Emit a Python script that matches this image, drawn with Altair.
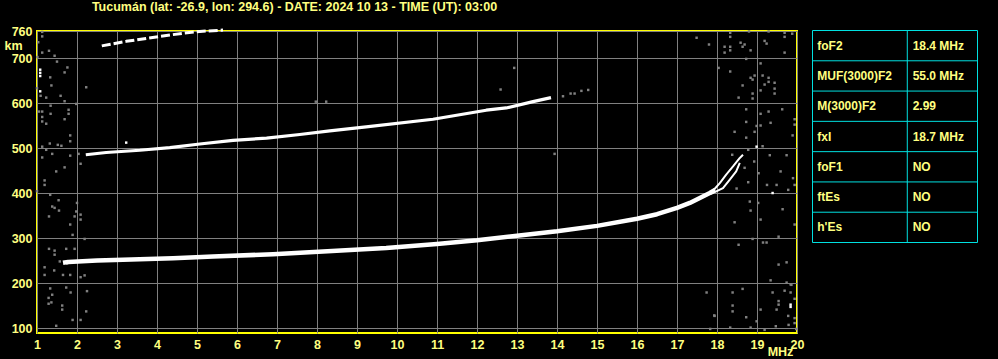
import altair as alt
import pandas as pd

# ---------------- data ----------------
# F2 trace (first hop), below the o/x split
f2_freq = [1.65, 1.78, 2.5, 3.15, 4.4, 5.4, 6.9, 8.15, 9.73, 11.0, 12.0, 13.0, 14.0, 15.0, 16.0, 16.5, 17.0, 17.32, 17.57, 17.82, 17.95]
f2_km = [245, 247, 250, 252, 255, 259, 264, 270, 278, 287, 295, 305, 315, 327, 343, 353, 367, 378, 389, 400, 407]
# o branch near the cusp
o_freq = [17.9, 18.07, 18.23, 18.4, 18.57, 18.65]
o_km = [405, 422, 441, 459, 478, 485]
# x branch near the cusp
x_freq = [17.85, 18.15, 18.32, 18.48, 18.57]
x_km = [398, 411, 430, 448, 467]
# second hop
h2_freq = [2.22, 2.73, 3.57, 4.32, 5.07, 5.9, 6.74, 7.57, 8.32, 9.23, 10.9, 12.23, 12.73, 13.4, 13.85]
h2_km = [485, 490, 495, 501, 509, 517, 522, 530, 538, 547, 564, 584, 589, 603, 612]
# third hop
h3_freq = [2.62, 3.23, 4.07, 4.65, 5.07, 5.65]
h3_km = [727, 737, 748, 755, 759, 762]

# grey speckle / noise
noise_freq = [
    1.13, 1.13, 1.03, 1.13, 1.30, 1.44, 1.50, 1.01, 1.76, 1.69, 1.33, 1.36, 2.23, 1.00, 1.09, 1.23, 1.59, 1.69,
    1.98, 1.34, 1.05, 1.13, 1.79, 1.79, 1.34, 1.13, 1.69, 1.13, 1.23, 1.83, 1.83, 1.32, 1.52, 1.61, 1.13, 1.23,
    1.38, 2.04, 1.13, 1.83, 2.09, 1.69, 1.48, 1.19, 1.19, 1.00, 1.33, 2.00, 1.54, 1.38, 1.44, 1.55, 1.98, 2.09,
    1.30, 1.94, 2.09, 1.83, 1.89, 2.19, 1.30, 1.44, 1.44, 1.73, 1.94, 1.19, 1.43, 1.65, 1.19, 1.83, 2.19, 2.09,
    1.33, 1.73, 1.84, 2.25, 1.38, 1.29, 1.36, 1.63, 1.63, 2.23, 1.89, 2.09, 1.48, 1.29, 1.57, 1.75,
    7.97, 8.23, 12.93, 12.59, 13.94, 14.15, 14.34, 14.44, 14.61, 14.78,
    17.49, 17.80, 18.33, 18.33, 18.80, 19.29, 19.69, 19.69, 19.88, 19.19, 19.24, 18.19, 18.33, 18.59, 18.69,
    18.64, 18.19, 18.33, 18.84, 19.69, 18.73, 19.09, 18.04, 18.33, 18.94, 18.84, 18.89, 19.14, 19.29, 19.29,
    19.44, 19.19, 18.64, 19.44, 19.09, 18.89, 19.44, 18.54, 18.89, 18.73, 19.09, 19.29, 19.63, 19.94, 18.73,
    19.34, 19.94, 19.09, 18.44, 18.94, 18.99, 18.73, 19.89,
    19.14, 18.38, 18.69, 18.93, 18.78, 19.32, 19.74, 19.59, 19.90, 19.94, 19.78, 19.04, 18.78, 19.25, 19.49,
    18.49, 19.03, 18.82, 18.84, 18.44, 19.09, 19.64, 19.94, 18.89, 19.15, 19.54,
    18.54, 19.24, 19.54, 19.74, 19.34, 19.74, 19.84, 17.74, 18.39, 18.64, 19.39, 19.69, 19.84, 19.54, 19.54,
    19.94, 18.39, 18.39, 19.09, 19.49, 17.94, 18.73, 18.99, 19.78, 19.94, 19.79, 19.94, 17.83, 18.33, 18.84,
    19.19, 19.47, 19.98, 17.93, 19.86,
]
noise_km = [
    758, 748, 735, 712, 716, 705, 692, 702, 679, 668, 657, 639, 635, 633, 616, 612, 616, 604,
    598, 594, 581, 581, 585, 576, 576, 569, 564, 559, 554, 528, 515, 510, 507, 505, 503, 496,
    487, 487, 479, 483, 465, 457, 448, 428, 418, 404, 396, 378, 384, 370, 367, 361, 359, 352,
    348, 348, 341, 330, 307, 298, 276, 272, 263, 276, 276, 235, 228, 218, 218, 218, 217, 213,
    188, 190, 179, 182, 174, 167, 157, 150, 141, 137, 118, 118, 105, 154, 248, 243,
    603, 603, 678, 630, 487, 615, 621, 621, 627, 629,
    745, 730, 756, 747, 759, 759, 756, 747, 754, 738, 732, 725, 725, 734, 730,
    725, 712, 717, 717, 712, 698, 688, 678, 670, 661, 656, 652, 661, 656, 647,
    645, 641, 639, 632, 628, 621, 621, 612, 610, 586, 576, 581, 586, 564, 558,
    556, 552, 550, 536, 536, 549, 523, 528,
    504, 485, 456, 470, 496, 484, 484, 448, 433, 418, 407, 444, 424, 418, 418,
    410, 378, 381, 361, 335, 341, 364, 330, 298, 290, 303,
    285, 290, 241, 246, 206, 201, 197, 179, 179, 187, 179, 183, 179, 160, 152,
    165, 150, 137, 141, 141, 127, 124, 115, 127, 122, 107, 111, 98, 101, 101,
    96, 104, 98, 128, 196,
]
# isolated bright echoes
spot_freq = [1.08, 1.08, 1.08, 1.08, 3.23, 18.99, 19.39, 19.84, 19.84]
spot_km = [660, 667, 674, 626, 512, 503, 400, 152, 147]

# parameter table
table_labels = ["foF2", "MUF(3000)F2", "M(3000)F2", "fxI", "foF1", "ftEs", "h'Es"]
table_values = ["18.4 MHz", "55.0 MHz", "2.99", "18.7 MHz", "NO", "NO", "NO"]

title_text = ["Tucumán (lat: -26.9, lon: 294.6) - DATE: 2024 10 13 - TIME (UT): 03:00"]
x_ticks = list(range(1, 21))
y_ticks = [100, 200, 300, 400, 500, 600, 700, 760]

# ---------------- styling ----------------
YEL = "#FFFF80"
CYAN = "#00E0E0"
GRID = "#808080"
FONT = "Liberation Sans"
W, H = 760, 302

XS = alt.Scale(domain=[1, 20], nice=False, zero=False)
YS = alt.Scale(domain=[89, 760], nice=False, zero=False)
AX = alt.Axis(values=x_ticks, grid=True, gridColor=GRID, gridWidth=1, gridOpacity=1,
              domain=False, ticks=False, labelColor=YEL, labelFont=FONT,
              labelFontSize=12.5, labelFontWeight="bold", labelPadding=5,
              labelOverlap=False, labelFlush=False, title=None)
AY = alt.Axis(values=y_ticks, grid=True, gridColor=GRID, gridWidth=1, gridOpacity=1,
              domain=False, ticks=False, labelColor=YEL, labelFont=FONT,
              labelFontSize=12.5, labelFontWeight="bold", labelPadding=5,
              labelOverlap=False, labelFlush=False, title=None)


def enc_xy():
    return dict(x=alt.X("f:Q", scale=XS, axis=AX, title=None),
                y=alt.Y("km:Q", scale=YS, axis=AY, title=None))


def trace(freq, km, width, dash=None):
    df = pd.DataFrame({"f": freq, "km": km, "o": list(range(len(freq)))})
    kw = dict(color="white", strokeWidth=width, strokeCap="butt", strokeJoin="round")
    if dash:
        kw["strokeDash"] = dash
    return alt.Chart(df).mark_line(**kw).encode(order="o:Q", **enc_xy())


noise = alt.Chart(pd.DataFrame({"f": noise_freq, "km": noise_km})).mark_square(
    size=6, color=GRID, opacity=1).encode(**enc_xy())
spots = alt.Chart(pd.DataFrame({"f": spot_freq, "km": spot_km})).mark_square(
    size=6, color="white", opacity=1).encode(**enc_xy())

main = alt.layer(
    noise,
    trace(h3_freq, h3_km, 3, dash=[9, 3]),
    trace(h2_freq, h2_km, 3.2),
    trace(f2_freq, f2_km, 4.5),
    trace(o_freq, o_km, 2),
    trace(x_freq, x_km, 2),
    spots,
)

# ---------------- parameter table ----------------
TX = alt.Scale(domain=[0, 1], range=[775.5, 940.5])
TY = alt.Scale(domain=[0, 7], range=[-0.5, 211.5])
tbl = pd.DataFrame({"row": list(range(len(table_labels))), "label": table_labels, "value": table_values})
hl = alt.Chart(pd.DataFrame({"r": list(range(len(table_labels) + 1))})).mark_rule(
    color=CYAN, strokeWidth=1).encode(
    y=alt.Y("r:Q", scale=TY, axis=None), x=alt.value(775.5), x2=alt.value(940.5))
vl = alt.Chart(pd.DataFrame({"c": [0, 0.5745, 1]})).mark_rule(color=CYAN, strokeWidth=1).encode(
    x=alt.X("c:Q", scale=TX, axis=None), y=alt.value(-0.5), y2=alt.value(211.5))
txt_kw = dict(align="left", baseline="middle", font=FONT, fontSize=12, fontWeight="bold", color=YEL)
lab = alt.Chart(tbl).transform_calculate(mid="datum.row + 0.5", lx="0.029").mark_text(**txt_kw).encode(
    x=alt.X("lx:Q", scale=TX, axis=None), y=alt.Y("mid:Q", scale=TY, axis=None), text="label:N")
val = alt.Chart(tbl).transform_calculate(mid="datum.row + 0.5", vx="0.607").mark_text(**txt_kw).encode(
    x=alt.X("vx:Q", scale=TX, axis=None), y=alt.Y("mid:Q", scale=TY, axis=None), text="value:N")
table = alt.layer(hl, vl, lab, val)

# ---------------- free text ----------------
title = alt.Chart(pd.DataFrame({"t": title_text})).mark_text(
    align="center", baseline="middle", font=FONT, fontSize=12.5, fontWeight="bold", color=YEL).encode(
    x=alt.value(257.5), y=alt.value(-24.5), text="t:N")
km_lab = alt.Chart(pd.DataFrame({"t": ["km"]})).mark_text(
    align="center", baseline="middle", font=FONT, fontSize=12.5, fontWeight="bold", color=YEL).encode(
    x=alt.value(-23.5), y=alt.value(15), text="t:N")
mhz_lab = alt.Chart(pd.DataFrame({"t": ["MHz"]})).mark_text(
    align="center", baseline="middle", font=FONT, fontSize=12.5, fontWeight="bold", color=YEL).encode(
    x=alt.value(743.5), y=alt.value(321), text="t:N")

chart = alt.layer(main, table, title, km_lab, mhz_lab).resolve_scale(
    x="independent", y="independent"
).properties(
    width=W, height=H,
    autosize=alt.AutoSizeParams(type="none"),
    padding={"left": 37, "top": 31, "right": 201, "bottom": 26},
).configure(background="black").configure_view(stroke="#FFFF00", strokeWidth=2)

chart.save("out.html", embed_options={"renderer": "svg", "actions": False})
